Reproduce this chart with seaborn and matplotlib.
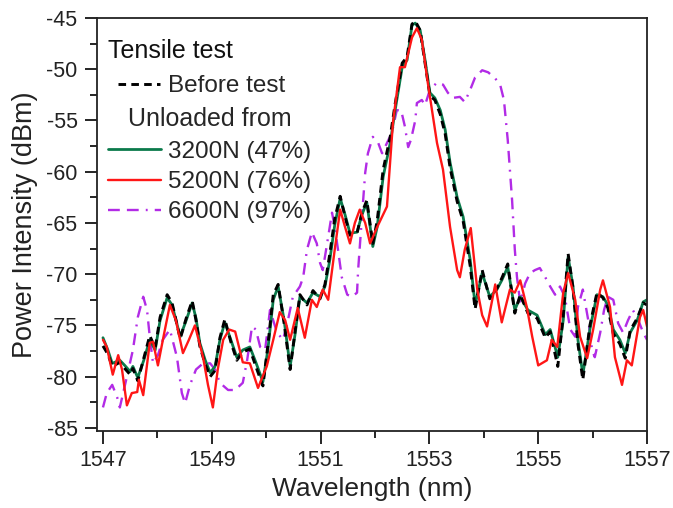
import matplotlib
matplotlib.use("Agg")
import matplotlib.pyplot as plt
from matplotlib.lines import Line2D
from matplotlib.ticker import MultipleLocator
import seaborn as sns

# ---------------- data ----------------
wl_3200 = [1547.00, 1547.09, 1547.17, 1547.31, 1547.40, 1547.50, 1547.55, 1547.64, 1547.75, 1547.86,
           1547.96, 1548.05, 1548.18, 1548.27, 1548.42, 1548.53, 1548.64, 1548.71, 1548.78, 1548.88,
           1548.97, 1549.06, 1549.15, 1549.24, 1549.35, 1549.46, 1549.57, 1549.70, 1549.81, 1549.94,
           1550.03, 1550.13, 1550.22, 1550.33, 1550.44, 1550.53, 1550.62, 1550.75, 1550.86, 1550.99,
           1551.08, 1551.17, 1551.26, 1551.36, 1551.45, 1551.54, 1551.67, 1551.76, 1551.85, 1551.96,
           1552.04, 1552.15, 1552.28, 1552.37, 1552.50, 1552.59, 1552.68, 1552.74, 1552.83, 1552.92,
           1553.01, 1553.10, 1553.20, 1553.29, 1553.38, 1553.51, 1553.62, 1553.75, 1553.84, 1553.97,
           1554.11, 1554.24, 1554.33, 1554.44, 1554.57, 1554.67, 1554.81, 1554.98, 1555.13, 1555.22,
           1555.36, 1555.46, 1555.55, 1555.64, 1555.73, 1555.82, 1555.95, 1556.08, 1556.19, 1556.28,
           1556.38, 1556.50, 1556.60, 1556.69, 1556.82, 1556.93, 1557.00]
pw_3200 = [-76.2, -77.4, -78.7, -78.4, -78.9, -79.5, -79.0, -80.1, -78.4, -76.4,
           -77.4, -74.5, -72.3, -73.0, -76.1, -74.5, -72.8, -74.3, -76.7, -78.4,
           -79.6, -79.0, -76.4, -74.7, -76.4, -78.1, -77.4, -77.1, -78.6, -80.5,
           -77.4, -72.5, -71.2, -74.5, -79.0, -75.9, -72.2, -72.8, -71.8, -72.2,
           -71.2, -68.6, -65.2, -62.6, -64.2, -66.0, -65.9, -64.2, -63.0, -67.3,
           -65.4, -60.5, -57.2, -54.0, -49.8, -49.1, -45.7, -45.5, -46.2, -49.1,
           -52.3, -52.8, -54.0, -55.9, -59.1, -62.5, -64.4, -68.6, -73.0, -69.9,
           -72.2, -71.5, -70.6, -69.3, -73.5, -72.2, -73.5, -74.0, -75.9, -75.4,
           -78.1, -74.5, -68.3, -71.2, -76.4, -79.8, -75.4, -72.0, -72.2, -73.0,
           -75.4, -76.4, -77.7, -75.7, -74.5, -72.7, -72.5]

wl_before = wl_3200
pw_before = [-77.0, -77.8, -79.0, -78.6, -79.2, -79.8, -79.2, -80.4, -78.2, -76.0,
             -77.2, -74.2, -72.0, -72.8, -76.3, -74.3, -72.6, -74.5, -77.0, -78.8,
             -80.0, -79.4, -76.2, -74.4, -76.6, -78.4, -77.6, -77.3, -79.0, -80.9,
             -77.0, -72.0, -71.0, -74.8, -79.3, -75.6, -72.0, -73.0, -71.6, -72.4,
             -71.0, -68.0, -64.6, -62.4, -64.4, -66.2, -66.0, -64.0, -62.8, -67.0,
             -64.8, -59.8, -56.6, -53.4, -49.4, -48.8, -45.6, -45.3, -46.2, -49.4,
             -52.6, -53.0, -54.4, -56.3, -59.6, -62.9, -64.8, -69.2, -73.4, -69.6,
             -72.4, -71.4, -70.4, -69.0, -73.8, -72.0, -73.8, -74.3, -76.2, -75.6,
             -79.0, -74.0, -68.0, -71.4, -76.8, -80.3, -75.0, -71.8, -72.3, -73.3,
             -75.8, -76.8, -78.2, -75.5, -74.3, -72.8, -73.0]

wl_5200 = [1547.00, 1547.07, 1547.18, 1547.28, 1547.35, 1547.44, 1547.53, 1547.63, 1547.66, 1547.74,
           1547.86, 1547.92, 1548.01, 1548.12, 1548.23, 1548.34, 1548.47, 1548.58, 1548.69, 1548.84,
           1548.93, 1549.02, 1549.11, 1549.21, 1549.32, 1549.43, 1549.57, 1549.70, 1549.85, 1550.01,
           1550.13, 1550.25, 1550.35, 1550.44, 1550.58, 1550.71, 1550.84, 1550.93, 1551.04, 1551.14,
           1551.26, 1551.36, 1551.45, 1551.54, 1551.63, 1551.72, 1551.82, 1551.91, 1552.04, 1552.22,
           1552.33, 1552.46, 1552.55, 1552.68, 1552.77, 1552.86, 1552.97, 1553.14, 1553.25, 1553.38,
           1553.51, 1553.56, 1553.65, 1553.76, 1553.88, 1553.97, 1554.06, 1554.21, 1554.33, 1554.48,
           1554.57, 1554.67, 1554.79, 1554.89, 1555.00, 1555.16, 1555.25, 1555.35, 1555.46, 1555.55,
           1555.68, 1555.77, 1555.90, 1556.01, 1556.14, 1556.19, 1556.32, 1556.41, 1556.54, 1556.63,
           1556.72, 1556.87, 1556.93, 1557.00]
pw_5200 = [-76.4, -77.1, -79.8, -77.9, -79.3, -82.8, -81.6, -81.5, -80.3, -81.8,
           -76.7, -76.6, -78.9, -75.9, -73.0, -74.5, -77.7, -76.4, -75.0, -78.1,
           -80.8, -83.0, -79.3, -76.4, -75.4, -75.6, -78.6, -78.7, -81.1, -79.0,
           -76.4, -73.7, -74.5, -76.4, -73.3, -76.2, -72.5, -73.2, -71.5, -72.5,
           -67.6, -63.7, -65.4, -67.0, -65.0, -63.7, -65.0, -67.0, -65.4, -63.4,
           -55.2, -49.8, -49.8, -46.9, -46.0, -47.1, -51.3, -57.2, -59.8, -65.4,
           -69.6, -70.3, -67.6, -65.5, -71.5, -74.0, -75.1, -71.0, -74.7, -71.5,
           -71.8, -70.6, -73.2, -76.1, -78.9, -78.4, -76.4, -77.1, -71.8, -69.9,
           -72.5, -76.1, -78.2, -75.4, -71.5, -70.6, -73.2, -78.1, -80.8, -78.4,
           -78.9, -74.2, -73.5, -75.1]

wl_6600 = [1547.00, 1547.07, 1547.17, 1547.26, 1547.31, 1547.44, 1547.55, 1547.64, 1547.74, 1547.81,
           1547.86, 1547.92, 1548.01, 1548.10, 1548.23, 1548.36, 1548.45, 1548.51, 1548.60, 1548.71,
           1548.84, 1548.97, 1549.06, 1549.15, 1549.30, 1549.43, 1549.57, 1549.65, 1549.74, 1549.81,
           1549.89, 1549.98, 1550.07, 1550.20, 1550.31, 1550.40, 1550.49, 1550.62, 1550.68, 1550.75,
           1550.84, 1550.93, 1550.99, 1551.04, 1551.12, 1551.21, 1551.26, 1551.32, 1551.39, 1551.49,
           1551.58, 1551.67, 1551.69, 1551.76, 1551.82, 1551.87, 1551.96, 1552.06, 1552.13, 1552.22,
           1552.31, 1552.40, 1552.48, 1552.55, 1552.61, 1552.66, 1552.74, 1552.77, 1552.86, 1552.92,
           1553.01, 1553.14, 1553.25, 1553.34, 1553.43, 1553.56, 1553.65, 1553.75, 1553.84, 1553.97,
           1554.08, 1554.21, 1554.30, 1554.37, 1554.44, 1554.52, 1554.57, 1554.61, 1554.67, 1554.76,
           1554.85, 1554.94, 1555.03, 1555.13, 1555.22, 1555.31, 1555.40, 1555.49, 1555.59, 1555.68,
           1555.73, 1555.82, 1555.92, 1555.99, 1556.04, 1556.14, 1556.21, 1556.28, 1556.38, 1556.47,
           1556.56, 1556.65, 1556.74, 1556.84, 1556.93, 1557.00]
pw_6600 = [-83.0, -81.6, -80.8, -82.0, -83.0, -80.0, -77.4, -74.2, -72.2, -73.5,
           -76.1, -78.7, -77.9, -76.4, -75.4, -78.1, -81.6, -82.6, -80.8, -79.3,
           -78.7, -78.7, -79.3, -80.6, -81.3, -81.3, -80.6, -78.4, -75.1, -75.4,
           -77.1, -77.4, -73.5, -75.7, -76.4, -74.5, -72.2, -71.2, -70.3, -67.6,
           -65.9, -67.0, -68.9, -69.6, -67.0, -64.0, -65.4, -67.6, -70.3, -72.0,
           -72.2, -71.8, -69.6, -64.4, -60.1, -58.2, -56.6, -57.2, -58.2, -57.2,
           -56.2, -54.0, -54.0, -55.6, -57.6, -56.9, -55.0, -53.3, -53.0, -53.5,
           -52.0, -51.3, -51.5, -52.3, -52.8, -52.7, -53.2, -52.0, -50.8, -50.1,
           -50.3, -50.9, -51.5, -53.0, -56.9, -62.8, -67.6, -70.3, -72.8, -70.9,
           -69.9, -69.6, -69.4, -70.3, -71.2, -72.0, -71.2, -72.2, -75.4, -76.1,
           -73.2, -71.5, -74.5, -77.4, -78.1, -75.7, -73.5, -72.2, -72.5, -74.8,
           -75.7, -74.5, -73.5, -74.5, -75.7, -76.4]

legend_title = "Tensile test"
label_before = "Before test"
group_title = "Unloaded from"
label_3200 = "3200N (47%)"
label_5200 = "5200N (76%)"
label_6600 = "6600N (97%)"

x_ticks = [1547, 1549, 1551, 1553, 1555, 1557]
y_ticks = [-85, -80, -75, -70, -65, -60, -55, -50, -45]

# ---------------- styling ----------------
sns.set_theme(style="white")
plt.rcParams["font.family"] = ["Liberation Sans", "DejaVu Sans"]
plt.rcParams["axes.unicode_minus"] = False

c_green = "#0b7a4b"
c_red = "#ff1616"
c_mag = "#b22be6"
ls_black = (0, (2.6, 1.8))
ls_mag = (0, (5, 3, 5, 3, 0.8, 3))

fig = plt.figure(figsize=(6.73, 5.08), dpi=100)
ax = fig.add_axes([0.1441, 0.1516, 0.8173, 0.8130])

sns.lineplot(x=wl_6600, y=pw_6600, ax=ax, sort=False, estimator=None,
             color=c_mag, lw=1.7, linestyle=ls_mag)
sns.lineplot(x=wl_3200, y=pw_3200, ax=ax, sort=False, estimator=None,
             color=c_green, lw=2.0)
sns.lineplot(x=wl_before, y=pw_before, ax=ax, sort=False, estimator=None,
             color="black", lw=2.1, linestyle=ls_black)
sns.lineplot(x=wl_5200, y=pw_5200, ax=ax, sort=False, estimator=None,
             color=c_red, lw=1.7)

ax.set_xlim(1546.89, 1557.0)
ax.set_ylim(-85.3, -45.0)
ax.set_xticks(x_ticks)
ax.set_yticks(y_ticks)
ax.xaxis.set_minor_locator(MultipleLocator(1))
ax.yaxis.set_minor_locator(MultipleLocator(2.5))
ax.tick_params(which="major", direction="out", length=9, width=1.2, color="black",
               labelsize=15.5, labelcolor="#222222", pad=5,
               bottom=True, left=True, top=False, right=False)
ax.tick_params(which="minor", direction="out", length=5, width=1.2, color="black",
               bottom=True, left=True, top=False, right=False)
for s in ax.spines.values():
    s.set_linewidth(1.3)
    s.set_color("#222222")

ax.set_xlabel("Wavelength (nm)", fontsize=19, color="#222222", labelpad=4)
ax.set_ylabel("Power Intensity (dBm)", fontsize=19.5, color="#222222", labelpad=6)

# legend
ax.text(0.02, 0.903, legend_title, transform=ax.transAxes, fontsize=18,
        ha="left", va="baseline", color="#111111")
h_before = Line2D([], [], color="black", lw=2.1, linestyle=ls_black)
legA = ax.legend(handles=[h_before], labels=[label_before], loc="center left",
                 bbox_to_anchor=(0.038, 0.835), frameon=False, fontsize=17.5,
                 handlelength=1.75, handletextpad=0.3, borderpad=0, borderaxespad=0)
ax.add_artist(legA)
h_g = Line2D([], [], color=c_green, lw=2.0)
h_r = Line2D([], [], color=c_red, lw=1.7)
h_m = Line2D([], [], color=c_mag, lw=1.7, linestyle=ls_mag)
legB = ax.legend(handles=[h_g, h_r, h_m], labels=[label_3200, label_5200, label_6600],
                 title=group_title, title_fontsize=18, loc="upper left",
                 bbox_to_anchor=(0.02, 0.784), frameon=False, fontsize=17.5,
                 handlelength=2.2, handletextpad=0.25, labelspacing=0.34,
                 borderpad=0, borderaxespad=0)
legB._legend_box.sep = 7

fig.savefig("out.png", dpi=100)
